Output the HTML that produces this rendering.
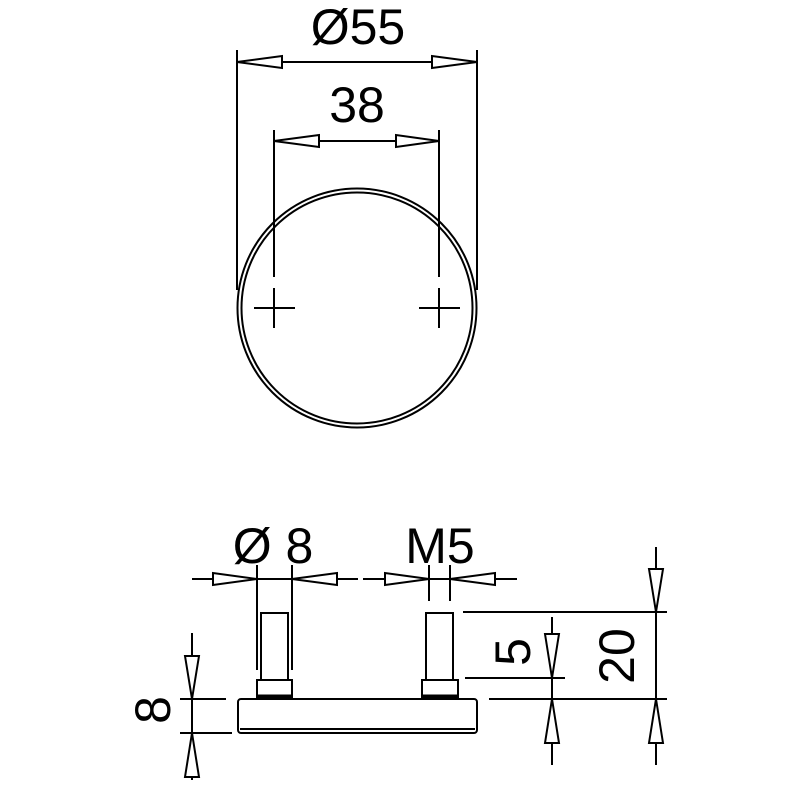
<!DOCTYPE html>
<html><head><meta charset="utf-8"><style>
html,body{margin:0;padding:0;background:#fff;}
svg{display:block;}
text{font-family:"Liberation Sans",sans-serif;fill:#000;}
</style></head><body>
<svg width="800" height="800" viewBox="0 0 800 800" xmlns="http://www.w3.org/2000/svg">
<g stroke="#000" stroke-width="2" fill="none">
<circle cx="357" cy="308" r="119.5"/>
<circle cx="357" cy="308" r="115.5"/>
<line x1="237" y1="50" x2="237" y2="290"/>
<line x1="477" y1="50" x2="477" y2="290"/>
<line x1="237" y1="62" x2="477" y2="62"/>
<polygon points="237,62 282,56 282,68" fill="#fff"/>
<polygon points="477,62 432,56 432,68" fill="#fff"/>
<line x1="274" y1="130" x2="274" y2="277"/>
<line x1="439" y1="130" x2="439" y2="277"/>
<line x1="274" y1="141" x2="439" y2="141"/>
<polygon points="274,141 319,135 319,147" fill="#fff"/>
<polygon points="439,141 396,135 396,147" fill="#fff"/>
<line x1="254" y1="308" x2="295" y2="308"/>
<line x1="274" y1="288" x2="274" y2="328"/>
<line x1="419" y1="308" x2="460" y2="308"/>
<line x1="439" y1="288" x2="439" y2="328"/>

<rect x="238" y="699" width="239" height="34" rx="3"/>
<line x1="240" y1="729" x2="475" y2="729"/>
<rect x="261" y="613" width="27" height="67"/>
<rect x="257" y="680" width="35" height="18"/>
<line x1="258" y1="696" x2="291" y2="696" stroke-width="3"/>
<rect x="426" y="613" width="27" height="67"/>
<rect x="422" y="680" width="36" height="18"/>
<line x1="423" y1="696" x2="457" y2="696" stroke-width="3"/>

<line x1="192" y1="579" x2="358" y2="579"/>
<line x1="257" y1="565" x2="257" y2="670"/>
<line x1="292" y1="565" x2="292" y2="670"/>
<polygon points="257,579 213,573 213,585" fill="#fff"/>
<polygon points="292,579 337,573 337,585" fill="#fff"/>
<line x1="363" y1="579" x2="517" y2="579"/>
<line x1="429" y1="565" x2="429" y2="601"/>
<line x1="450" y1="565" x2="450" y2="601"/>
<polygon points="429,579 385,573 385,585" fill="#fff"/>
<polygon points="450,579 495,573 495,585" fill="#fff"/>

<line x1="463" y1="612" x2="667" y2="612"/>
<line x1="465" y1="678" x2="565" y2="678"/>
<line x1="489" y1="699" x2="667" y2="699"/>
<line x1="552" y1="617" x2="552" y2="765"/>
<polygon points="552,678 545,634 559,634" fill="#fff"/>
<polygon points="552,699 545,743 559,743" fill="#fff"/>
<line x1="656" y1="547" x2="656" y2="765"/>
<polygon points="656,612 649,569 663,569" fill="#fff"/>
<polygon points="656,699 649,743 663,743" fill="#fff"/>

<line x1="180" y1="699" x2="226" y2="699"/>
<line x1="180" y1="733" x2="232" y2="733"/>
<line x1="192" y1="633" x2="192" y2="780"/>
<polygon points="192,699 185,656 199,656" fill="#fff"/>
<polygon points="192,733 185,777 199,777" fill="#fff"/>
</g>
<text x="358" y="44" font-size="50" text-anchor="middle">Ø55</text>
<text x="357" y="122" font-size="50" text-anchor="middle">38</text>
<text x="273" y="563" font-size="50" text-anchor="middle">Ø 8</text>
<text x="440" y="563" font-size="50" text-anchor="middle">M5</text>
<text transform="translate(170,710) rotate(-90)" font-size="50" text-anchor="middle">8</text>
<text transform="translate(530,652) rotate(-90)" font-size="50" text-anchor="middle">5</text>
<text transform="translate(634,656) rotate(-90)" font-size="50" text-anchor="middle">20</text>
</svg>
</body></html>
